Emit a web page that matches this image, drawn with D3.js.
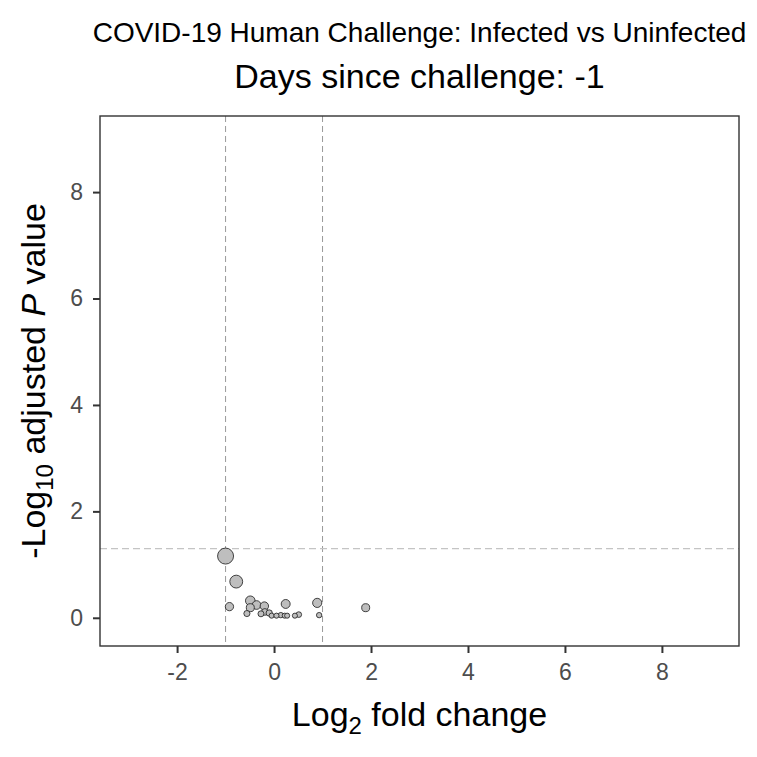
<!DOCTYPE html>
<html>
<head>
<meta charset="utf-8">
<script src="https://cdn.jsdelivr.net/npm/d3@7"></script>
<style>
  body { margin: 0; background: #fff; }
  text { font-family: "Liberation Sans", Arial, sans-serif; }
</style>
</head>
<body>
<svg width="757" height="757"></svg>
<script>
var svg = d3.select("svg"),
    width = +svg.attr("width"),
    height = +svg.attr("height");

// log2 fold change and -log10 adjusted p value
var log2fc = [-1.00, -0.78, -0.92, -0.49, -0.49, -0.36, -0.20, 0.24, 0.89, 1.89,
              -0.56, -0.19, -0.27, -0.10, -0.05, 0.05, 0.14, 0.22, 0.27, 0.43, 0.51, 0.93];
var negLog10p = [1.16, 0.68, 0.21, 0.32, 0.19, 0.24, 0.22, 0.26, 0.28, 0.19,
                 0.08, 0.11, 0.075, 0.09, 0.04, 0.04, 0.05, 0.04, 0.04, 0.04, 0.06, 0.05];
var xTicks = [-2, 0, 2, 4, 6, 8];
var yTicks = [0, 2, 4, 6, 8];
var fcCut = [-1, 1];
var pCut = -Math.log10(0.05);

var points = log2fc.map(function(d, i) { return {x: d, y: negLog10p[i]}; });

var margin = {top: 116, right: 18, bottom: 111, left: 100};
var x = d3.scaleLinear().domain([-3.59, 9.59]).range([margin.left, width - margin.right]);
var y = d3.scaleLinear().domain([-0.53, 9.43]).range([height - margin.bottom, margin.top]);
var r = d3.scaleSqrt().domain([0, 1.16]).range([1.3, 8]);

var plot = svg.append("g");

// threshold lines
plot.selectAll(".vcut")
    .data(fcCut)
    .enter().append("line")
    .attr("x1", function(d) { return x(d); })
    .attr("x2", function(d) { return x(d); })
    .attr("y1", y.range()[1])
    .attr("y2", y.range()[0])
    .attr("stroke", "#999")
    .attr("stroke-width", 1)
    .attr("stroke-dasharray", "6,4");

plot.append("line")
    .attr("x1", x.range()[0])
    .attr("x2", x.range()[1])
    .attr("y1", y(pCut))
    .attr("y2", y(pCut))
    .attr("stroke", "#c4c4c4")
    .attr("stroke-width", 1.2)
    .attr("stroke-dasharray", "7,4");

// points, largest first so small ones sit on top
plot.selectAll("circle")
    .data(points.slice().sort(function(a, b) { return b.y - a.y; }))
    .enter().append("circle")
    .attr("cx", function(d) { return x(d.x); })
    .attr("cy", function(d) { return y(d.y); })
    .attr("r", function(d) { return r(d.y); })
    .attr("fill", "#bebebe")
    .attr("stroke", "#1a1a1a")
    .attr("stroke-width", 0.8);

// panel border
svg.append("rect")
    .attr("x", x.range()[0])
    .attr("y", y.range()[1])
    .attr("width", x.range()[1] - x.range()[0])
    .attr("height", y.range()[0] - y.range()[1])
    .attr("fill", "none")
    .attr("stroke", "#333")
    .attr("stroke-width", 1.4);

var xAxis = svg.append("g")
    .attr("transform", "translate(0," + y.range()[0] + ")")
    .call(d3.axisBottom(x).tickValues(xTicks).tickSize(7).tickPadding(11)
          .tickFormat(function(d) { return d; }));
var yAxis = svg.append("g")
    .attr("transform", "translate(" + x.range()[0] + ",0)")
    .call(d3.axisLeft(y).tickValues(yTicks).tickSize(7).tickPadding(10)
          .tickFormat(function(d) { return d; }));

[xAxis, yAxis].forEach(function(a) {
  a.select(".domain").remove();
  a.selectAll(".tick line").attr("stroke", "#333").attr("stroke-width", 2);
  a.selectAll(".tick text")
      .attr("fill", "#4d4d4d")
      .style("font-size", "23px")
      .style("font-family", "'Liberation Sans', Arial, sans-serif");
});

// titles
var cx = (x.range()[0] + x.range()[1]) / 2;
svg.append("text")
    .attr("x", cx)
    .attr("y", 42)
    .attr("text-anchor", "middle")
    .style("font-size", "28px")
    .text("COVID-19 Human Challenge: Infected vs Uninfected");
svg.append("text")
    .attr("x", cx)
    .attr("y", 88)
    .attr("text-anchor", "middle")
    .style("font-size", "34px")
    .text("Days since challenge: -1");

var xt = svg.append("text")
    .attr("x", cx)
    .attr("y", 726)
    .attr("text-anchor", "middle")
    .style("font-size", "34px");
xt.append("tspan").text("Log");
xt.append("tspan").attr("dy", 8).style("font-size", "24px").text("2");
xt.append("tspan").attr("dy", -8).text(" fold change");

var yt = svg.append("text")
    .attr("transform", "translate(45," + ((y.range()[0] + y.range()[1]) / 2) + ") rotate(-90)")
    .attr("text-anchor", "middle")
    .style("font-size", "34px");
yt.append("tspan").text("-Log");
yt.append("tspan").attr("dy", 8).style("font-size", "24px").text("10");
yt.append("tspan").attr("dy", -8).text(" adjusted ");
yt.append("tspan").style("font-style", "italic").text("P");
yt.append("tspan").text(" value");
</script>
</body>
</html>
